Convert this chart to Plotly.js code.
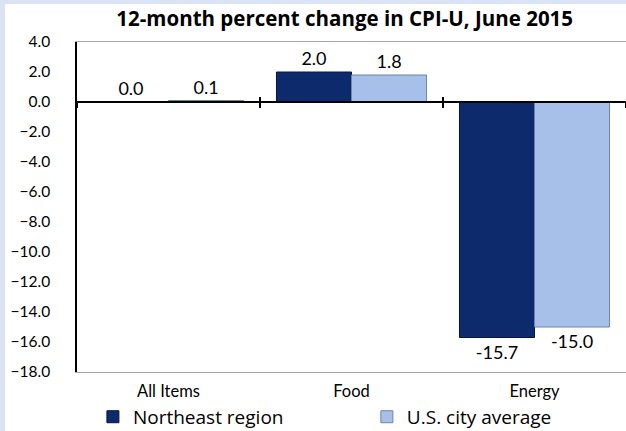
<!DOCTYPE html>
<html>
<head>
<meta charset="utf-8">
<script src="https://cdn.plot.ly/plotly-3.0.1.min.js"></script>
<style>
  html, body { margin: 0; padding: 0; background: #dae3f3; overflow: hidden; }
  #chart { position: absolute; left: 5px; top: 4px; width: 621px; height: 427px; }
</style>
</head>
<body>
<div id="chart"></div>
<script>
// 12-month percent change in CPI-U, June 2015
const categories = ["All Items", "Food", "Energy"];
const northeast = [0.0, 2.0, -15.7];
const usAverage = [0.1, 1.8, -15.0];
const boundaries = [-0.5, 0.5, 1.5, 2.5];

function plotCpiChange() {
  const labelFont = { family: "Lato, sans-serif", size: 18, color: "#000" };
  const legendFont = { family: "Open Sans, sans-serif", size: 19, color: "#000" };

  const traces = [
    {
      x: categories,
      y: northeast,
      name: "Northeast region",
      type: "bar",
      legend: "legend",
      marker: { color: "#0c2a6c", line: { color: "#05163e", width: 1 } },
      texttemplate: "%{y:.1f}",
      textposition: "outside",
      textfont: labelFont,
      cliponaxis: false,
    },
    {
      x: categories,
      y: usAverage,
      name: "U.S. city average",
      type: "bar",
      legend: "legend2",
      marker: { color: "#a7c0ea", line: { color: "#6d84a8", width: 1 } },
      texttemplate: "%{y:.1f}",
      textposition: "outside",
      textfont: labelFont,
      cliponaxis: false,
    },
    // empty traces so the zero-line tick axes get drawn
    { x: [], y: [], type: "scatter", xaxis: "x2", showlegend: false, hoverinfo: "skip" },
    { x: [], y: [], type: "scatter", xaxis: "x3", showlegend: false, hoverinfo: "skip" },
  ];

  const layout = {
    width: 621,
    height: 427,
    paper_bgcolor: "#ffffff",
    plot_bgcolor: "#ffffff",
    margin: { l: 72, r: 0, t: 38, b: 59, autoexpand: false },
    font: { family: "Lato, sans-serif", size: 15, color: "#000" },
    title: {
      text: "<b>12-month percent change in CPI-U, June 2015</b>",
      font: { family: "Open Sans, sans-serif", size: 20.5, color: "#000" },
      x: 0.547,
      xanchor: "center",
      y: 0.965,
      yanchor: "middle",
    },
    barmode: "group",
    bargap: 0.18,
    bargroupgap: 0,
    showlegend: true,
    legend: {
      orientation: "h",
      x: 0.029,
      xanchor: "left",
      y: -0.136,
      yanchor: "middle",
      bgcolor: "rgba(0,0,0,0)",
      font: legendFont,
    },
    legend2: {
      orientation: "h",
      x: 0.528,
      xanchor: "left",
      y: -0.136,
      yanchor: "middle",
      bgcolor: "rgba(0,0,0,0)",
      font: legendFont,
    },
    xaxis: {
      type: "category",
      range: [-0.5, 2.5],
      showline: true,
      linecolor: "#a6a6a6",
      linewidth: 1,
      mirror: true,
      ticks: "",
      showgrid: false,
      ticklabelstandoff: 4,
      tickfont: { family: "Lato, sans-serif", size: 16.5, color: "#000" },
    },
    xaxis2: {
      overlaying: "x",
      anchor: "free",
      position: 18 / 22,
      range: [-0.5, 2.5],
      showline: true,
      linecolor: "#000",
      linewidth: 1.5,
      ticks: "outside",
      ticklen: 5,
      tickwidth: 1.5,
      tickcolor: "#000",
      tickvals: boundaries,
      showticklabels: false,
      showgrid: false,
      zeroline: false,
    },
    xaxis3: {
      overlaying: "x",
      anchor: "free",
      position: 18 / 22,
      range: [-0.5, 2.5],
      showline: false,
      ticks: "inside",
      ticklen: 5,
      tickwidth: 1.5,
      tickcolor: "#000",
      tickvals: boundaries,
      showticklabels: false,
      showgrid: false,
      zeroline: false,
    },
    yaxis: {
      range: [-18, 4],
      dtick: 2,
      tickformat: ".1f",
      showline: true,
      linecolor: "#000",
      linewidth: 1.5,
      ticks: "outside",
      ticklen: 22,
      tickcolor: "rgba(0,0,0,0)",
      showgrid: false,
      zeroline: false,
      tickfont: { family: "Lato, sans-serif", size: 15.5, color: "#000" },
    },
  };

  Plotly.newPlot("chart", traces, layout, { displayModeBar: false });
}

plotCpiChange();
</script>
</body>
</html>
